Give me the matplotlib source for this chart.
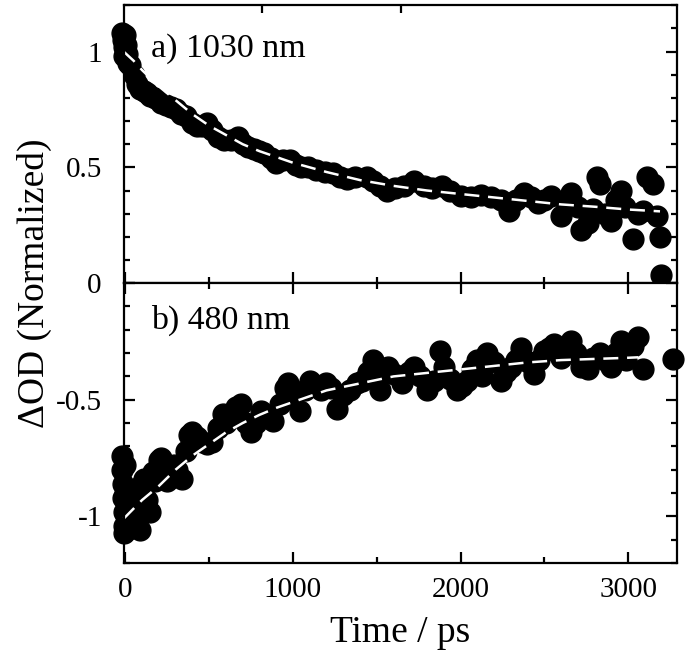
import matplotlib
matplotlib.use("Agg")
import matplotlib.pyplot as plt
from matplotlib.ticker import MultipleLocator, FixedLocator, FuncFormatter

plt.rcParams['font.family'] = ['Liberation Serif', 'DejaVu Serif']

# ---- data: panel a) 1030 nm ----
t_a = [-20, -15, -10, -5, 0, 5, 10, 15, 30, 50, 70, 90, 110, 130, 150, 180, 210, 240, 270, 300,
       330, 360, 400, 430, 460, 490, 520, 550, 590, 630, 670, 700, 730, 770, 800, 830, 870, 900,
       940, 980, 1020, 1050, 1090, 1140, 1190, 1240, 1280, 1320, 1370, 1440, 1480, 1520, 1560,
       1610, 1660, 1720, 1780, 1830, 1890, 1940, 2000, 2060, 2120, 2180, 2240, 2290, 2330, 2380,
       2420, 2460, 2500, 2540, 2600, 2630, 2660, 2700, 2720, 2760, 2790, 2815, 2830, 2860, 2900,
       2930, 2960, 2980, 3030, 3060, 3090, 3110, 3150, 3170, 3190, 3195]
od_a = [1.08, 1.05, 1.02, 0.98, 1.07, 1.03, 0.99, 0.95, 0.94, 0.90, 0.86, 0.84, 0.83, 0.82, 0.81,
        0.80, 0.78, 0.77, 0.76, 0.75, 0.73, 0.72, 0.69, 0.68, 0.68, 0.69, 0.66, 0.63, 0.62, 0.62,
        0.63, 0.60, 0.59, 0.58, 0.57, 0.56, 0.54, 0.52, 0.53, 0.53, 0.51, 0.50, 0.50, 0.49, 0.48,
        0.475, 0.46, 0.45, 0.46, 0.46, 0.44, 0.42, 0.40, 0.41, 0.42, 0.44, 0.42, 0.41, 0.42, 0.40,
        0.375, 0.37, 0.38, 0.37, 0.36, 0.31, 0.36, 0.39, 0.37, 0.345, 0.36, 0.375, 0.29, 0.35,
        0.39, 0.33, 0.23, 0.26, 0.32, 0.46, 0.43, 0.30, 0.27, 0.36, 0.40, 0.33, 0.19, 0.30, 0.31,
        0.46, 0.43, 0.29, 0.20, 0.035]
fit_t_a = [-10, 50, 100, 200, 300, 400, 500, 600, 700, 800, 900, 1000, 1200, 1400, 1600, 1800,
           2000, 2200, 2400, 2600, 2800, 3000, 3190]
fit_a = [1.00, 0.96, 0.92, 0.85, 0.79, 0.73, 0.68, 0.64, 0.60, 0.57, 0.545, 0.52, 0.48, 0.445,
         0.42, 0.40, 0.385, 0.37, 0.355, 0.34, 0.33, 0.318, 0.31]

# ---- data: panel b) 480 nm ----
t_b = [-20, -20, -15, -15, -10, -10, -5, 0, 0, 5, 5, 10, 20, 30, 40, 50, 60, 75, 90, 100, 110,
       130, 150, 165, 180, 200, 215, 235, 250, 270, 290, 310, 340, 360, 380, 400, 430, 460, 490,
       520, 550, 580, 600, 630, 660, 690, 720, 750, 780, 810, 840, 880, 920, 950, 970, 1000, 1040,
       1070, 1100, 1140, 1170, 1200, 1230, 1260, 1300, 1340, 1380, 1410, 1450, 1480, 1520, 1550,
       1570, 1600, 1650, 1690, 1720, 1760, 1800, 1840, 1880, 1900, 1940, 1980, 2010, 2040, 2070,
       2100, 2130, 2160, 2200, 2240, 2270, 2300, 2330, 2360, 2400, 2440, 2470, 2500, 2530, 2560,
       2600, 2630, 2660, 2690, 2720, 2760, 2790, 2830, 2860, 2900, 2930, 2960, 2990, 3030, 3060,
       3090, 3270]
od_b = [-0.74, -0.80, -0.86, -0.92, -0.98, -1.04, -1.07, -0.78, -0.90, -1.00, -1.06, -0.95, -1.02,
        -0.92, -1.05, -0.95, -1.00, -0.90, -1.06, -0.86, -0.84, -0.93, -0.98, -0.81, -0.85, -0.76,
        -0.75, -0.82, -0.85, -0.80, -0.78, -0.80, -0.84, -0.72, -0.65, -0.64, -0.66, -0.68, -0.69,
        -0.68, -0.62, -0.56, -0.60, -0.57, -0.53, -0.52, -0.60, -0.64, -0.60, -0.55, -0.57, -0.59,
        -0.52, -0.45, -0.43, -0.49, -0.55, -0.46, -0.42, -0.44, -0.46, -0.43, -0.45, -0.54, -0.48,
        -0.46, -0.43, -0.42, -0.38, -0.33, -0.46, -0.38, -0.36, -0.39, -0.43, -0.38, -0.36, -0.40,
        -0.46, -0.42, -0.29, -0.36, -0.41, -0.46, -0.44, -0.42, -0.37, -0.33, -0.40, -0.30, -0.34,
        -0.42, -0.38, -0.36, -0.33, -0.28, -0.34, -0.39, -0.33, -0.29, -0.28, -0.26, -0.32, -0.29,
        -0.25, -0.30, -0.36, -0.37, -0.32, -0.30, -0.33, -0.36, -0.30, -0.25, -0.33, -0.27, -0.23,
        -0.37, -0.325]
fit_t_b = [-10, 100, 200, 300, 400, 500, 600, 700, 800, 900, 1000, 1200, 1400, 1600, 1800, 2000,
           2200, 2400, 2600, 2800, 3000, 3060]
fit_b = [-1.01, -0.93, -0.87, -0.80, -0.74, -0.69, -0.64, -0.60, -0.565, -0.535, -0.51, -0.46,
         -0.43, -0.40, -0.385, -0.37, -0.355, -0.34, -0.33, -0.325, -0.32, -0.318]

x_major = [0, 1000, 2000, 3000]
x_labels = ['0', '1000', '2000', '3000']
y_labels_a = {1.0: '1', 0.5: '0.5', 0.0: '0'}
y_labels_b = {-0.5: '-0.5', -1.0: '-1'}

fig = plt.figure(figsize=(6.85, 6.6), dpi=100)
L, R = 0.181, 0.988
ax_a = fig.add_axes([L, 0.571, R - L, 0.992 - 0.571])
ax_b = fig.add_axes([L, 0.147, R - L, 0.571 - 0.147])

ms = 15
for ax, t, od, ft, fv in [(ax_a, t_a, od_a, fit_t_a, fit_a), (ax_b, t_b, od_b, fit_t_b, fit_b)]:
    ax.plot(t, od, 'o', color='black', ms=ms, mec='black', clip_on=False, zorder=3)
    ax.plot(ft, fv, color='white', lw=1.8, dashes=(6, 3.5), zorder=4, clip_on=False)
    ax.set_xlim(-8, 3290)
    ax.xaxis.set_major_locator(FixedLocator(x_major))
    ax.xaxis.set_minor_locator(MultipleLocator(500))
    ax.yaxis.set_major_locator(MultipleLocator(0.5))
    ax.yaxis.set_minor_locator(MultipleLocator(0.1))
    ax.tick_params(which='both', direction='in', width=1.6, right=True, labelsize=21)
    ax.tick_params(axis='y', which='both', pad=16)
    ax.tick_params(axis='x', which='both', pad=10)
    ax.tick_params(which='major', length=8)
    ax.tick_params(which='minor', length=4.5)
    for s in ax.spines.values():
        s.set_linewidth(1.6)
        s.set_zorder(5)

ax_a.set_ylim(0, 1.2)
ax_b.set_ylim(-1.2, 0)
ax_a.tick_params(axis='x', which='both', top=False, labelbottom=False)
ax_b.tick_params(axis='x', which='both', top=True, labelbottom=True)
ax_b.set_xticklabels(x_labels)
ax_a.yaxis.set_major_formatter(FuncFormatter(lambda v, p: y_labels_a.get(round(v, 2), '')))
ax_b.yaxis.set_major_formatter(FuncFormatter(lambda v, p: y_labels_b.get(round(v, 2), '')))

# odd top-spine ticks of the upper panel
ax_top = ax_a.secondary_xaxis('top')
ax_top.set_xticks([817, 1646])
ax_top.tick_params(direction='in', length=6, width=1.6, labeltop=False)
ax_top.spines['top'].set_visible(False)

ax_a.text(0.049, 0.815, 'a) 1030 nm', transform=ax_a.transAxes, fontsize=24.5,
          ha='left', va='baseline')
ax_b.text(0.049, 0.836, 'b) 480 nm', transform=ax_b.transAxes, fontsize=24.5,
          ha='left', va='baseline')

ax_b.set_xlabel('Time / ps', fontsize=27, labelpad=9)
fig.text(0.050, 0.571, 'ΔOD (Normalized)', rotation=90, fontsize=27, ha='center', va='center')

fig.savefig('out.png', dpi=100)
